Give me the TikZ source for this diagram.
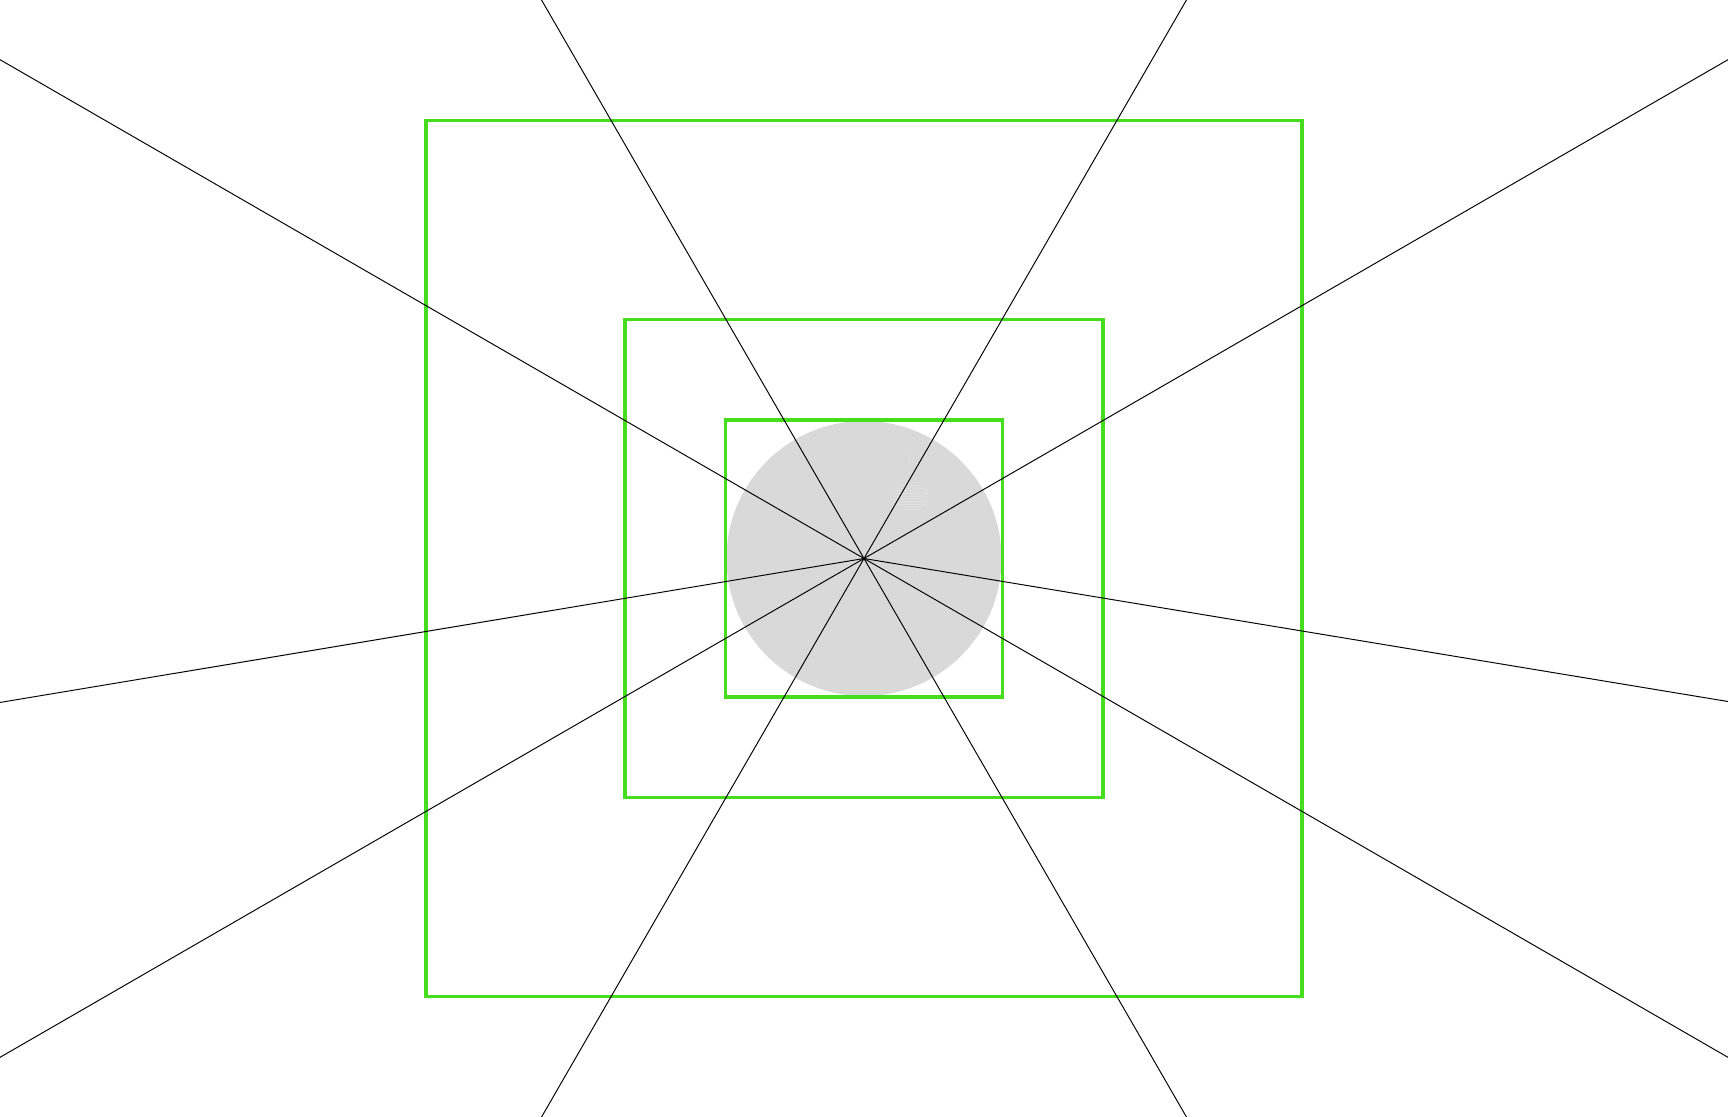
\documentclass[tikz,border=0pt]{standalone}
\definecolor{boxgreen}{RGB}{70,221,30}
\definecolor{discgray}{RGB}{217,217,217}
\tikzset{
  sqbox/.style={draw=boxgreen, line width=2.2pt},
  ray/.style={draw=black, line width=0.55pt}
}
\begin{document}
\begin{tikzpicture}[x=0.2mm,y=-0.2mm]
    \useasboundingbox (0,0) rectangle (1728,1117);
    \clip (0,0) rectangle (1728,1117);
    \coordinate (c) at (864,558.5);
    \fill[discgray] (c) circle (137.5);
    \begin{scope}
      \clip (911.5,496.5) ellipse (18 and 15);
      \foreach \i in {0,...,14}
        \foreach \j in {0,...,12}
          \fill[white!85!discgray] (892+\i*2.7,480+\j*2.7) circle (0.45);
    \end{scope}
    \foreach \j in {0,...,4}
      \fill[white!70!discgray] (909.3,455+\j*4.3) circle (0.45);
    \foreach \r in {438,239,138.5}
      \draw[sqbox, shift={(c)}] (-\r,-\r) rectangle (\r,\r);
    \foreach \a in {30,60,120,150,189.46,210,240,300,330,350.6}
      \draw[ray] (c) -- ++(-\a:1300);
  \end{tikzpicture}
\end{document}
